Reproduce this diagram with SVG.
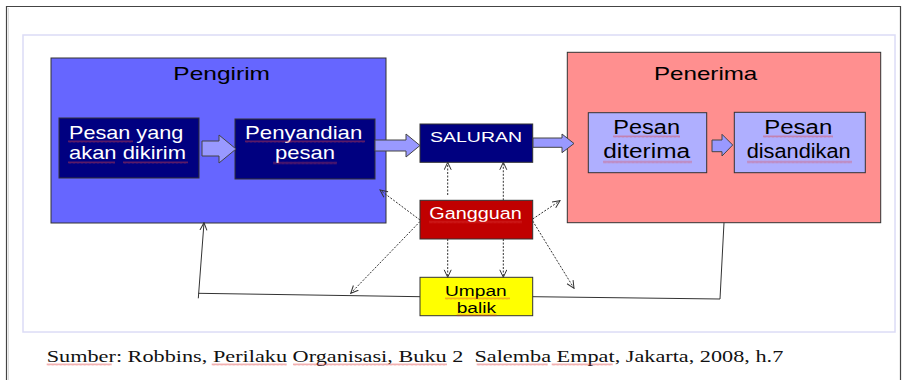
<svg xmlns="http://www.w3.org/2000/svg" width="902" height="380" viewBox="0 0 902 380">
<style>
.t{font-family:"Liberation Sans",Arial,sans-serif;}
.w{fill:#ffffff;}
.k{fill:#000000;}
.box{stroke:#333333;stroke-width:1;}
.blk{fill:#9999ff;stroke:#444444;stroke-width:1;}
.dot{fill:none;stroke:#333333;stroke-width:1;stroke-dasharray:2 1.5;marker-end:url(#ah);}
.sol{fill:none;stroke:#333333;stroke-width:1;}
.sq{fill:url(#sqp);opacity:0.75;}
.cap{font-family:"Liberation Serif","Times New Roman",serif;font-size:17.5px;fill:#111111;white-space:pre;}
</style>
<defs>
<pattern id="sqp" patternUnits="userSpaceOnUse" width="4" height="3">
<path d="M0 2.5 L1 0.5 L2 2.5 L3 0.5 L4 2.5" fill="none" stroke="#e04040" stroke-width="0.55"/>
</pattern>
<marker id="ah" markerWidth="9" markerHeight="9" refX="8" refY="4" orient="auto" markerUnits="userSpaceOnUse">
<path d="M0.5 0.5 L8 4 L0.5 7.5" fill="none" stroke="#333333" stroke-width="1"/>
</marker>
</defs>
<rect x="0" y="0" width="902" height="380" fill="#ffffff"/>
<!-- page frame -->
<path d="M6.5 380 V6.5 H900.5 V380" fill="none" stroke="#444444" stroke-width="1.2"/>
<line x1="8.5" y1="8" x2="8.5" y2="380" stroke="#dddddd" stroke-width="1"/>
<rect x="23" y="35" width="872" height="297" fill="none" stroke="#dcdcf6" stroke-width="1.5"/>

<g id="pengirim">
<rect class="box" x="51" y="58" width="335" height="165" fill="#6666ff"/>
<text class="t k" x="173.3" y="80" font-size="18.5" textLength="96.7" lengthAdjust="spacingAndGlyphs">Pengirim</text>
</g>
<g id="penerima">
<rect class="box" x="567.3" y="52.3" width="313.4" height="170.4" fill="#ff8f8f"/>
<text class="t k" x="654" y="80" font-size="18.5" textLength="103.3" lengthAdjust="spacingAndGlyphs">Penerima</text>
</g>
<g id="pesan-yang">
<rect class="box" x="59" y="118" width="140" height="60" fill="#000080"/>
<text class="t w" x="69" y="138.7" font-size="18.5" textLength="114.3" lengthAdjust="spacingAndGlyphs">Pesan yang</text>
<text class="t w" x="69" y="159.3" font-size="18.5" textLength="117" lengthAdjust="spacingAndGlyphs">akan dikirim</text>
<rect class="sq" width="65" height="3" transform="translate(68,140)"/>
<rect class="sq" width="47" height="3" transform="translate(68,161)"/>
<rect class="sq" width="65" height="3" transform="translate(123,161)"/>
</g>
<g id="penyandian">
<rect class="box" x="235" y="119" width="140" height="60" fill="#000080"/>
<text class="t w" x="245" y="138.7" font-size="18.5" textLength="117.3" lengthAdjust="spacingAndGlyphs">Penyandian</text>
<text class="t w" x="275" y="158.7" font-size="18.5" textLength="60" lengthAdjust="spacingAndGlyphs">pesan</text>
<rect class="sq" width="120" height="3" transform="translate(245,140)"/>
<rect class="sq" width="64" height="3" transform="translate(273,161.5)"/>
</g>
<g id="saluran">
<rect class="box" x="420" y="124" width="112.7" height="38.3" fill="#000080"/>
<text class="t w" x="430" y="141.7" font-size="15.5" textLength="92" lengthAdjust="spacingAndGlyphs">SALURAN</text>
</g>
<g id="pesan-diterima">
<rect class="box" x="588.3" y="112.7" width="118.4" height="60" fill="#afafff"/>
<text class="t k" x="613.3" y="134.3" font-size="20" textLength="66.7" lengthAdjust="spacingAndGlyphs">Pesan</text>
<text class="t k" x="603.3" y="158.3" font-size="20" textLength="86.7" lengthAdjust="spacingAndGlyphs">diterima</text>
<rect class="sq" width="67" height="3" transform="translate(613,135)"/>
<rect class="sq" width="89" height="3" transform="translate(603,160.5)"/>
</g>
<g id="pesan-disandikan">
<rect class="box" x="734.3" y="112.3" width="131" height="60.4" fill="#afafff"/>
<text class="t k" x="764.3" y="134.3" font-size="20" textLength="68" lengthAdjust="spacingAndGlyphs">Pesan</text>
<text class="t k" x="746.7" y="158.3" font-size="20" textLength="104" lengthAdjust="spacingAndGlyphs">disandikan</text>
<rect class="sq" width="70" height="3" transform="translate(763,135)"/>
<rect class="sq" width="105" height="3" transform="translate(747,160.5)"/>
</g>
<g id="gangguan">
<rect class="box" x="420" y="200.3" width="112.7" height="38.7" fill="#c00000"/>
<text class="t w" x="429.3" y="219.3" font-size="16.8" textLength="92.4" lengthAdjust="spacingAndGlyphs">Gangguan</text>
<rect class="sq" width="93" height="3" transform="translate(429,220.5)"/>
</g>
<g id="umpan-balik">
<rect class="box" x="420" y="277.3" width="112.7" height="38.4" fill="#ffff00"/>
<text class="t k" x="445" y="295.7" font-size="15.5" textLength="61.7" lengthAdjust="spacingAndGlyphs">Umpan</text>
<text class="t k" x="456.7" y="313.3" font-size="15.5" textLength="39.3" lengthAdjust="spacingAndGlyphs">balik</text>
<rect class="sq" width="65" height="3" transform="translate(445,297)"/>
<rect class="sq" width="40" height="3" transform="translate(456.7,313.5)"/>
</g>

<g id="connectors">
<polygon class="blk" points="202,141 219,141 219,135 236,149 219,163 219,156 202,156"/>
<polygon class="blk" points="375,140 406,140 406,134 420,145.5 406,157 406,151 375,151"/>
<polygon class="blk" points="533,138 562,138 562,134 574,143.5 562,152.7 562,147.3 533,147.3"/>
<polygon class="blk" points="712,140 722,140 722,134.3 732.7,145 722,156 722,151.7 712,151.7"/>
<line class="dot" x1="447.7" y1="195" x2="447.7" y2="162.3"/>
<line class="dot" x1="503.3" y1="200.3" x2="503.3" y2="162.3"/>
<line class="dot" x1="447.7" y1="239" x2="447.7" y2="277.3"/>
<line class="dot" x1="503.3" y1="239" x2="503.3" y2="277.3"/>
<line class="dot" x1="420" y1="220" x2="380" y2="190"/>
<line class="dot" x1="420" y1="221.5" x2="350.7" y2="293.3"/>
<line class="dot" x1="532.7" y1="219" x2="560" y2="200.7"/>
<line class="dot" x1="532.7" y1="221" x2="574" y2="288.3"/>
<polyline class="sol" points="532.7,296.7 720,299 724,222.7"/>
<line class="sol" x1="420" y1="296.7" x2="198.3" y2="293.3"/>
<line class="sol" x1="198.3" y1="298.3" x2="204" y2="222.7" marker-end="url(#ah)"/>
</g>

<g id="caption">
<text class="cap" x="46.7" y="361.7" textLength="736.6" lengthAdjust="spacingAndGlyphs">Sumber: Robbins, Perilaku Organisasi, Buku 2  Salemba Empat, Jakarta, 2008, h.7</text>
<rect class="sq" width="65" height="3" transform="translate(46.7,363)"/>
<rect class="sq" width="75" height="3" transform="translate(211.7,363)"/>
<rect class="sq" width="117" height="3" transform="translate(293,363)"/>
<rect class="sq" width="37" height="3" transform="translate(410,363)"/>
<rect class="sq" width="71" height="3" transform="translate(476.7,363)"/>
<rect class="sq" width="61" height="3" transform="translate(551.7,363)"/>
</g>
</svg>
